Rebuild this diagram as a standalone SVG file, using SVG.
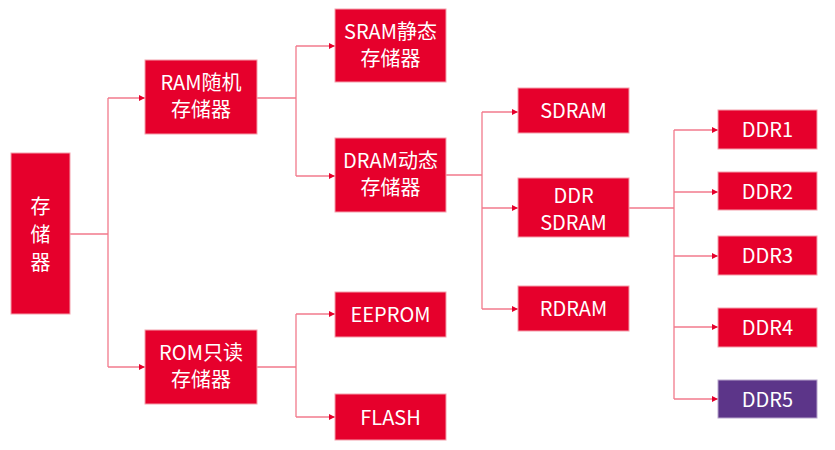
<svg xmlns="http://www.w3.org/2000/svg" width="835" height="450" viewBox="0 0 835 450">
<defs>
<marker id="arr" markerWidth="6" markerHeight="6" refX="6" refY="3" orient="auto" markerUnits="userSpaceOnUse">
<path d="M0,0 L6,3 L0,6 Z" fill="#E6002C"/>
</marker>
<style>
.box{fill:#E6002C;stroke:#F4A0AC;stroke-width:1}
.p{fill:#5C3589;stroke:#B8A6CC;stroke-width:1}
.t{font-family:"Noto Sans CJK SC","Noto Sans",sans-serif;font-size:20px;fill:#fff;text-anchor:middle}
.c{fill:none;stroke:#F27A8C;stroke-width:1.3}
</style>
</defs>
<rect width="835" height="450" fill="#fff"/>
<g id="connectors">
<path class="c" d="M70,234 H108 M108,98 V367"/>
<path class="c" d="M108,98 H145" marker-end="url(#arr)"/>
<path class="c" d="M108,367 H145" marker-end="url(#arr)"/>
<path class="c" d="M257,98 H296 M296,46 V176"/>
<path class="c" d="M296,46 H335" marker-end="url(#arr)"/>
<path class="c" d="M296,176 H335" marker-end="url(#arr)"/>
<path class="c" d="M257,367 H296 M296,314 V417"/>
<path class="c" d="M296,314 H335" marker-end="url(#arr)"/>
<path class="c" d="M296,417 H335" marker-end="url(#arr)"/>
<path class="c" d="M446,175 H482 M482,112 V309"/>
<path class="c" d="M482,112 H518" marker-end="url(#arr)"/>
<path class="c" d="M482,208 H518" marker-end="url(#arr)"/>
<path class="c" d="M482,309 H518" marker-end="url(#arr)"/>
<path class="c" d="M629,208 H674 M674,130 V399"/>
<path class="c" d="M674,130 H718" marker-end="url(#arr)"/>
<path class="c" d="M674,192 H718" marker-end="url(#arr)"/>
<path class="c" d="M674,256 H718" marker-end="url(#arr)"/>
<path class="c" d="M674,327 H718" marker-end="url(#arr)"/>
<path class="c" d="M674,399 H718" marker-end="url(#arr)"/>
</g>
<g id="root"><rect class="box" x="11" y="153" width="59" height="161"/>
<text class="t" x="40.5" y="214">存</text><text class="t" x="40.5" y="242">储</text><text class="t" x="40.5" y="270">器</text></g>
<g id="ram"><rect class="box" x="145" y="60" width="112" height="74"/>
<text class="t" x="201" y="90">RAM随机</text><text class="t" x="201" y="117">存储器</text></g>
<g id="rom"><rect class="box" x="145" y="330" width="112" height="74"/>
<text class="t" x="201" y="360">ROM只读</text><text class="t" x="201" y="387">存储器</text></g>
<g id="sram"><rect class="box" x="335" y="9" width="111" height="73"/>
<text class="t" x="390.5" y="39">SRAM静态</text><text class="t" x="390.5" y="66">存储器</text></g>
<g id="dram"><rect class="box" x="335" y="138" width="111" height="74"/>
<text class="t" x="390.5" y="168">DRAM动态</text><text class="t" x="390.5" y="195">存储器</text></g>
<g id="eeprom"><rect class="box" x="335" y="292" width="111" height="45"/>
<text class="t" x="390.5" y="322">EEPROM</text></g>
<g id="flash"><rect class="box" x="335" y="394" width="111" height="46"/>
<text class="t" x="390.5" y="425">FLASH</text></g>
<g id="sdram"><rect class="box" x="518" y="88" width="111" height="45"/>
<text class="t" x="573.5" y="118">SDRAM</text></g>
<g id="ddrsdram"><rect class="box" x="518" y="178" width="111" height="59"/>
<text class="t" x="573.5" y="203">DDR</text><text class="t" x="573.5" y="230">SDRAM</text></g>
<g id="rdram"><rect class="box" x="518" y="286" width="111" height="45"/>
<text class="t" x="573.5" y="316">RDRAM</text></g>
<g id="ddr1"><rect class="box" x="718" y="110" width="99" height="39"/>
<text class="t" x="767.5" y="137">DDR1</text></g>
<g id="ddr2"><rect class="box" x="718" y="172" width="99" height="38"/>
<text class="t" x="767.5" y="199">DDR2</text></g>
<g id="ddr3"><rect class="box" x="718" y="236" width="99" height="39"/>
<text class="t" x="767.5" y="263">DDR3</text></g>
<g id="ddr4"><rect class="box" x="718" y="308" width="99" height="39"/>
<text class="t" x="767.5" y="335">DDR4</text></g>
<g id="ddr5"><rect class="p" x="718" y="380" width="99" height="38"/>
<text class="t" x="767.5" y="407">DDR5</text></g>
</svg>
